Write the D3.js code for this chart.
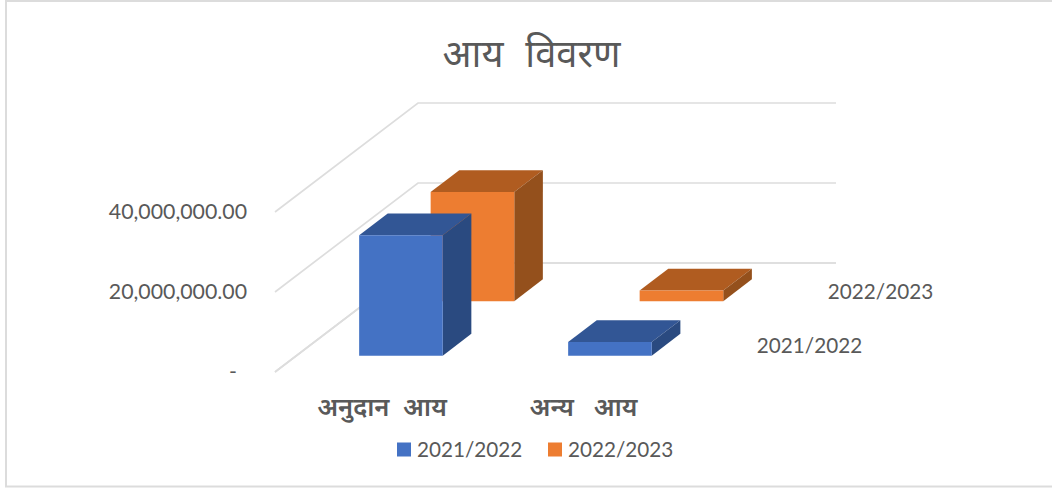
<!DOCTYPE html>
<html><head><meta charset="utf-8">
<script src="https://cdn.jsdelivr.net/npm/d3@7/dist/d3.min.js"></script>
<style>html,body{margin:0;padding:0;background:#fff;overflow:hidden}svg{display:block}</style>
</head><body><svg id="c" width="1052" height="488"></svg>
<script>
const title = "आय विवरण";
const categories = ["अनुदान आय", "अन्य   आय"];
const seriesNames = ["2021/2022", "2022/2023"];
const values2122 = [30100000, 3400000];
const values2223 = [27300000, 2650000];
const yTicks = [0, 20000000, 40000000];
const yTickLabels = ["-", "20,000,000.00", "40,000,000.00"];

const latin = "Lato, 'Noto Sans', sans-serif";
const deva = "'Noto Sans Devanagari','Noto Sans','Lohit Devanagari',sans-serif";
const textColor = "#595959";
const colors = {
  "2021/2022": {front:"#4472C4", top:"#325695", side:"#2A4A80"},
  "2022/2023": {front:"#ED7D31", top:"#B05C20", side:"#94501C"}
};
const svg = d3.select("#c");
// chart frame: cropped at the right edge of the picture
svg.append("rect").attr("x",6).attr("y",1).attr("width",1070).attr("height",485.5)
  .attr("fill","#fff").attr("stroke","#DCDCDC").attr("stroke-width",2);

// oblique projection
const X0 = 275, Y0 = 372, DEPTH_X = 143, DEPTH_Y = 109, FLOOR_W = 418;
const x = d3.scaleBand().domain(categories).range([0, FLOOR_W]).paddingInner(0.6).paddingOuter(0.3);
const z = d3.scaleBand().domain(seriesNames).range([0, DEPTH_X]).paddingInner(0.6).paddingOuter(0.3);
const y = d3.scaleLinear().domain([0, 40000000]).range([0, 160]);
const P = (px, h, d) => [X0 + px + d, Y0 - h - d * DEPTH_Y / DEPTH_X];
const poly = pts => pts.map(p => p.join(",")).join(" ");

// gridlines: side wall + back wall
const grid = svg.append("g").attr("fill","none").attr("stroke","#DDDDDD").attr("stroke-width",1.7);
yTicks.forEach(t => {
  grid.append("polyline").attr("points", poly([P(0,y(t),0),P(0,y(t),DEPTH_X),P(FLOOR_W,y(t),DEPTH_X)]));
});
// wall top line
grid.append("polyline").attr("points", poly([P(0,0,0),P(0,0,DEPTH_X),P(FLOOR_W,0,DEPTH_X)]));

// bars back to front
const rows = [
  {name:seriesNames[1], vals:values2223},
  {name:seriesNames[0], vals:values2122}
];
rows.forEach(r => {
  const c = colors[r.name], d0 = z(r.name), d1 = d0 + z.bandwidth();
  categories.forEach((cat,i) => {
    const a = x(cat), b = a + x.bandwidth(), h = y(r.vals[i]);
    const g = svg.append("g");
    g.append("polygon").attr("fill",c.top).attr("points",poly([P(a,h,d0),P(b,h,d0),P(b,h,d1),P(a,h,d1)]));
    g.append("polygon").attr("fill",c.side).attr("points",poly([P(b,0,d0),P(b,h,d0),P(b,h,d1),P(b,0,d1)]));
    g.append("polygon").attr("fill",c.front).attr("points",poly([P(a,0,d0),P(b,0,d0),P(b,h,d0),P(a,h,d0)]));
  });
});

// y axis labels
const yAxisScale = d3.scaleLinear().domain([0, 40000000]).range([Y0, Y0-160]);
const yAxis = d3.axisLeft(yAxisScale).tickValues(yTicks)
  .tickFormat((d,i)=>yTickLabels[i]).tickSize(0).tickPadding(0);
const ga = svg.append("g").attr("transform","translate(247,0)").call(yAxis);
ga.select(".domain").remove();
ga.selectAll("text").attr("fill",textColor).attr("font-family",latin).attr("font-size",21.3).attr("dy","0.3em");
ga.selectAll("text").filter((d)=>d===0).attr("x",-10);

// title
svg.append("text").attr("x",531.5).attr("y",67).attr("text-anchor","middle")
  .attr("font-family",deva).attr("font-size",38).attr("word-spacing",12).attr("fill",textColor).text(title);

// category labels
[[382,7],[583.5,0]].forEach(([cx,ws],i)=>{
  svg.append("text").attr("x",cx).attr("y",416).attr("text-anchor","middle")
    .style("white-space","pre").attr("word-spacing",ws)
    .attr("font-family",deva).attr("font-size",25.5).attr("font-weight",600).attr("fill",textColor).text(categories[i]);
});

// depth axis labels
[[seriesNames[0],809.5,353],[seriesNames[1],880.5,299]].forEach(([t,px,py])=>{
  svg.append("text").attr("x",px).attr("y",py).attr("text-anchor","middle")
    .attr("font-family",latin).attr("font-size",20.7).attr("fill",textColor).text(t);
});

// legend
[[seriesNames[0],397],[seriesNames[1],548]].forEach(([t,px])=>{
  svg.append("rect").attr("x",px).attr("y",442.5).attr("width",14).attr("height",14).attr("fill",colors[t].front);
  svg.append("text").attr("x",px+20).attr("y",456.5).attr("font-family",latin).attr("font-size",20.7).attr("fill",textColor).text(t);
});
</script></body></html>
